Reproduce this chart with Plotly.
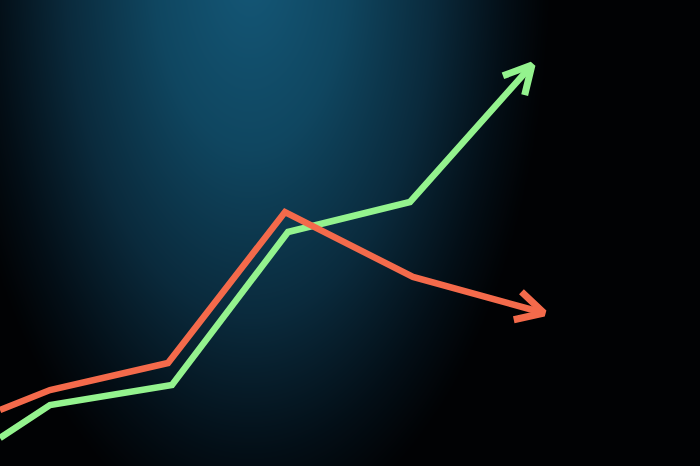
import numpy as np
import plotly.graph_objects as go

green_x = [0, 50, 172, 288, 410, 532]
green_y = [28, 61, 81, 234, 264, 401]
red_x = [0, 50, 168, 285, 413, 544]
red_y = [56, 76, 103, 254, 189, 153]

W, H = 700, 466

fig = go.Figure()

# Background glow (decorative)
gx = np.linspace(0, W, 141)
gy = np.linspace(0, H, 95)
X, Y = np.meshgrid(gx, gy)
cx, cy, rx, ry = 250, H + 40, 300, 580
d = np.sqrt(((X - cx) / rx) ** 2 + ((Y - cy) / ry) ** 2)
Z = np.clip(1 - d, 0, 1) ** 1.1
fig.add_trace(go.Heatmap(
    x=gx, y=gy, z=Z, zmin=0, zmax=1, zsmooth="best", showscale=False,
    hoverinfo="skip",
    colorscale=[[0, "#010204"], [0.12, "#030e16"], [0.35, "#0a2a3c"],
                [0.65, "#0f4660"], [1, "#145878"]],
))


def add_line(xs, ys, color, angle_deg, wing):
    fig.add_trace(go.Scatter(x=xs, y=ys, mode="lines", hoverinfo="skip",
                             line=dict(color=color, width=6.5)))
    # arrowhead from the direction of the last segment
    tx, ty = xs[-1], ys[-1]
    dx, dy = xs[-1] - xs[-2], ys[-1] - ys[-2]
    n = np.hypot(dx, dy)
    ux, uy = -dx / n, -dy / n
    pts_x, pts_y = [], []
    for s in (1, -1):
        a = np.radians(angle_deg * s)
        wx = ux * np.cos(a) - uy * np.sin(a)
        wy = ux * np.sin(a) + uy * np.cos(a)
        pts_x.append(tx + wing * wx)
        pts_y.append(ty + wing * wy)
    fig.add_trace(go.Scatter(x=[pts_x[0], tx, pts_x[1]],
                             y=[pts_y[0], ty, pts_y[1]],
                             mode="lines", hoverinfo="skip",
                             line=dict(color=color, width=7)))


add_line(green_x, green_y, "#94f38e", 28, 31)
add_line(red_x, red_y, "#f46a4b", 28, 31)

fig.update_layout(
    width=W, height=H, margin=dict(l=0, r=0, t=0, b=0),
    paper_bgcolor="#010204", plot_bgcolor="#010204", showlegend=False,
    xaxis=dict(range=[0, W], visible=False, fixedrange=True),
    yaxis=dict(range=[0, H], visible=False, fixedrange=True),
)
fig.write_html(
    "out.html",
    config={"displayModeBar": False},
    post_script="document.body.style.margin='0';"
                "document.body.style.background='#010204';",
)
